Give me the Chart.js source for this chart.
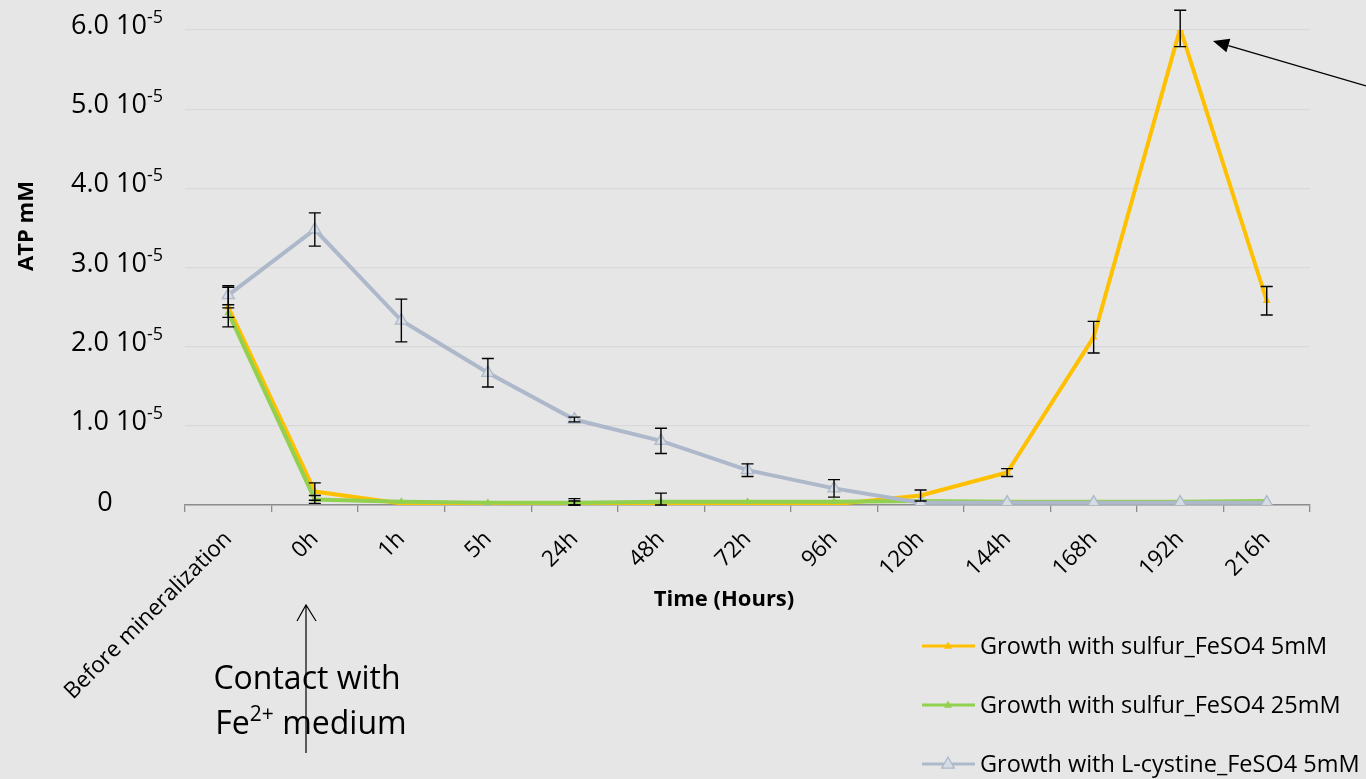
<!DOCTYPE html>
<html>
<head>
<meta charset="utf-8">
<script src="https://cdn.jsdelivr.net/npm/chart.js@4.4.1/dist/chart.umd.min.js"></script>
<style>
  html, body { margin: 0; padding: 0; background: #E7E6E6; }
  #wrap { width: 1366px; height: 779px; position: relative; }
</style>
</head>
<body>
<div id="wrap"><canvas id="c" width="1366" height="779"></canvas></div>
<script>
// ATP concentration (mM) over time after contact with Fe2+ medium
const categories = ['Before mineralization', '0h', '1h', '5h', '24h', '48h', '72h', '96h', '120h', '144h', '168h', '192h', '216h'];

const sulfur5 = [2.50e-5, 0.17e-5, 0.02e-5, 0.01e-5, 0.01e-5, 0.01e-5, 0.01e-5, 0.01e-5, 0.12e-5, 0.41e-5, 2.12e-5, 6.02e-5, 2.58e-5];
const sulfur5Err = [0.25e-5, 0.11e-5, 0, 0, 0.04e-5, 0, 0, 0, 0.07e-5, 0.05e-5, 0.20e-5, 0.23e-5, 0.18e-5];

const sulfur25 = [2.43e-5, 0.07e-5, 0.04e-5, 0.03e-5, 0.03e-5, 0.04e-5, 0.04e-5, 0.04e-5, 0.05e-5, 0.04e-5, 0.04e-5, 0.04e-5, 0.05e-5];
const sulfur25Err = [0.06e-5, 0.05e-5, 0, 0, 0.05e-5, 0.11e-5, 0, 0, 0, 0, 0, 0, 0];

const cystine5 = [2.65e-5, 3.48e-5, 2.33e-5, 1.67e-5, 1.08e-5, 0.81e-5, 0.44e-5, 0.21e-5, 0.03e-5, 0.03e-5, 0.03e-5, 0.03e-5, 0.03e-5];
const cystine5Err = [0.12e-5, 0.21e-5, 0.27e-5, 0.18e-5, 0.03e-5, 0.16e-5, 0.08e-5, 0.11e-5, 0, 0, 0, 0, 0];

const yTicks = [0, 1e-5, 2e-5, 3e-5, 4e-5, 5e-5, 6e-5];

const seriesNames = ['Growth with sulfur_FeSO4 5mM', 'Growth with sulfur_FeSO4 25mM', 'Growth with L-cystine_FeSO4 5mM'];
const xTitle = 'Time (Hours)';
const yTitle = 'ATP mM';

const FONT = '"Open Sans", "Noto Sans", sans-serif';
const C_YELLOW = '#FFC000';
const C_GREEN = '#92D050';
const C_GREY = '#ADB9CA';
const C_GREY_FILL = '#D6DCE4';

// error bars drawn through the chart's own scales
const errorBars = {
  id: 'errorBars',
  afterDatasetsDraw(chart) {
    const { ctx, scales: { x, y } } = chart;
    ctx.save();
    ctx.strokeStyle = '#000';
    ctx.lineWidth = 1.4;
    chart.data.datasets.forEach((ds) => {
      if (!ds.errors) return;
      ds.data.forEach((v, i) => {
        const e = ds.errors[i];
        if (!e) return;
        const px = x.getPixelForValue(i);
        const yTop = y.getPixelForValue(v + e);
        const yBot = y.getPixelForValue(Math.max(0, v - e));
        ctx.beginPath();
        ctx.moveTo(px, yTop); ctx.lineTo(px, yBot);
        ctx.moveTo(px - 6, yTop); ctx.lineTo(px + 6, yTop);
        ctx.moveTo(px - 6, yBot); ctx.lineTo(px + 6, yBot);
        ctx.stroke();
      });
    });
    ctx.restore();
  }
};

// y tick labels with a true superscript exponent, plus both axis titles
const axisText = {
  id: 'axisText',
  afterDraw(chart) {
    const { ctx, scales: { y } } = chart;
    ctx.save();
    ctx.fillStyle = '#000';
    ctx.textBaseline = 'alphabetic';
    ctx.textAlign = 'left';
    const right = 163;
    y.ticks.forEach((t) => {
      const py = y.getPixelForValue(t.value);
      const base = py + 4;
      if (t.value === 0) {
        ctx.font = '27px ' + FONT;
        const w = ctx.measureText('0').width;
        ctx.fillText('0', 105 - w / 2, base + 2);
        return;
      }
      const main = (t.value / 1e-5).toFixed(1) + ' 10';
      ctx.font = '18px ' + FONT;
      const wSup = ctx.measureText('-5').width;
      ctx.font = '27px ' + FONT;
      const wMain = ctx.measureText(main).width;
      const x0 = right - wSup - wMain;
      ctx.fillText(main, x0, base);
      ctx.font = '18px ' + FONT;
      ctx.fillText('-5', x0 + wMain, base - 11);
    });

    // axis titles
    ctx.textAlign = 'center';
    ctx.textBaseline = 'middle';
    ctx.font = 'bold 22px ' + FONT;
    ctx.fillText(xTitle, 724, 600);
    ctx.translate(27, 226);
    ctx.rotate(-Math.PI / 2);
    ctx.font = 'bold 22px ' + FONT;
    ctx.fillText(yTitle, 0, 0);
    ctx.restore();
  }
};

function triangle(ctx, cx, cy, r, fill, stroke) {
  ctx.beginPath();
  ctx.moveTo(cx, cy - r);
  ctx.lineTo(cx + r * 0.9, cy + r * 0.6);
  ctx.lineTo(cx - r * 0.9, cy + r * 0.6);
  ctx.closePath();
  ctx.fillStyle = fill;
  ctx.fill();
  if (stroke) { ctx.strokeStyle = stroke; ctx.lineWidth = 1.3; ctx.stroke(); }
}

// legend, notes and arrows
const decorations = {
  id: 'decorations',
  afterDraw(chart) {
    const ctx = chart.ctx;
    ctx.save();

    // legend
    const legendY = [646, 705, 764];
    const colors = [C_YELLOW, C_GREEN, C_GREY];
    ctx.font = '23.5px ' + FONT;
    ctx.textBaseline = 'middle';
    ctx.textAlign = 'left';
    seriesNames.forEach((name, i) => {
      const ly = legendY[i];
      ctx.strokeStyle = colors[i];
      ctx.lineWidth = 3;
      ctx.beginPath(); ctx.moveTo(922, ly); ctx.lineTo(975, ly); ctx.stroke();
      if (i < 2) triangle(ctx, 948, ly, 4.5, colors[i]);
      else triangle(ctx, 948, ly, 7, C_GREY_FILL, C_GREY);
      ctx.fillStyle = '#000';
      ctx.fillText(name, 980, ly + 1);
    });

    // arrow pointing at the peak
    ctx.strokeStyle = '#000';
    ctx.fillStyle = '#000';
    ctx.lineWidth = 1.3;
    const tip = { x: 1213, y: 41 };
    const tail = { x: 1366, y: 86 };
    const ang = Math.atan2(tail.y - tip.y, tail.x - tip.x);
    const hl = 16, hw = 7;
    const bx = tip.x + Math.cos(ang) * hl, by = tip.y + Math.sin(ang) * hl;
    ctx.beginPath(); ctx.moveTo(bx, by); ctx.lineTo(tail.x, tail.y); ctx.stroke();
    ctx.beginPath();
    ctx.moveTo(tip.x, tip.y);
    ctx.lineTo(bx - Math.sin(ang) * hw, by + Math.cos(ang) * hw);
    ctx.lineTo(bx + Math.sin(ang) * hw, by - Math.cos(ang) * hw);
    ctx.closePath(); ctx.fill();

    // upward arrow under 0h
    ctx.lineWidth = 1.2;
    ctx.beginPath();
    ctx.moveTo(306, 753); ctx.lineTo(306, 605);
    ctx.moveTo(297, 621); ctx.lineTo(306, 605); ctx.lineTo(316, 621);
    ctx.stroke();

    // note text
    ctx.fillStyle = '#000';
    ctx.textBaseline = 'alphabetic';
    ctx.textAlign = 'left';
    ctx.font = '32px ' + FONT;
    const l1 = 'Contact with';
    const w1 = ctx.measureText(l1).width;
    ctx.fillText(l1, 307 - w1 / 2, 689);
    const fe = 'Fe', med = ' medium';
    const wFe = ctx.measureText(fe).width;
    const wMed = ctx.measureText(med).width;
    ctx.font = '21px ' + FONT;
    const wSup = ctx.measureText('2+').width;
    const sx = 311 - (wFe + wSup + wMed) / 2;
    ctx.font = '32px ' + FONT;
    ctx.fillText(fe, sx, 734);
    ctx.font = '21px ' + FONT;
    ctx.fillText('2+', sx + wFe, 721);
    ctx.font = '32px ' + FONT;
    ctx.fillText(med, sx + wFe + wSup, 734);

    ctx.restore();
  }
};

const background = {
  id: 'background',
  beforeDraw(chart) {
    const ctx = chart.ctx;
    ctx.save();
    ctx.fillStyle = '#E7E6E6';
    ctx.fillRect(0, 0, chart.width, chart.height);
    ctx.restore();
  }
};

new Chart(document.getElementById('c'), {
  type: 'line',
  data: {
    labels: categories,
    datasets: [
      {
        label: seriesNames[0], data: sulfur5, errors: sulfur5Err,
        borderColor: C_YELLOW, backgroundColor: C_YELLOW, borderWidth: 4,
        pointStyle: 'triangle', pointRadius: 4.5, pointBorderWidth: 0,
        tension: 0, order: 3
      },
      {
        label: seriesNames[1], data: sulfur25, errors: sulfur25Err,
        borderColor: C_GREEN, backgroundColor: C_GREEN, borderWidth: 4,
        pointStyle: 'triangle', pointRadius: 4.5, pointBorderWidth: 0,
        tension: 0, order: 2
      },
      {
        label: seriesNames[2], data: cystine5, errors: cystine5Err,
        borderColor: C_GREY, backgroundColor: C_GREY_FILL, borderWidth: 4,
        pointStyle: 'triangle', pointRadius: 7, pointBorderWidth: 1.3,
        pointBorderColor: C_GREY,
        tension: 0, order: 1
      }
    ]
  },
  options: {
    responsive: false,
    animation: false,
    devicePixelRatio: 1,
    layout: { padding: { left: 0, right: 56, top: 30, bottom: 0 } },
    plugins: { legend: { display: false }, tooltip: { enabled: false } },
    scales: {
      x: {
        offset: true,
        grid: { offset: true, drawOnChartArea: false, drawTicks: true, tickLength: 7, color: '#8C8C8C', lineWidth: 1.3 },
        border: { display: true, color: '#8C8C8C', width: 1.5 },
        ticks: { autoSkip: false, minRotation: 45, maxRotation: 45, padding: 14, color: '#000', font: { family: FONT, size: 22.5 } },
        title: { display: false },
        afterFit(scale) { scale.height = 274; }
      },
      y: {
        min: 0, max: 6e-5,
        afterBuildTicks(scale) { scale.ticks = yTicks.map(v => ({ value: v })); },
        grid: { color: '#D9D9D9', lineWidth: 1.3, drawTicks: false },
        border: { display: false },
        ticks: { display: false },
        title: { display: false },
        afterFit(scale) { scale.width = 185; }
      }
    }
  },
  plugins: [background, errorBars, axisText, decorations]
});
</script>
</body>
</html>
